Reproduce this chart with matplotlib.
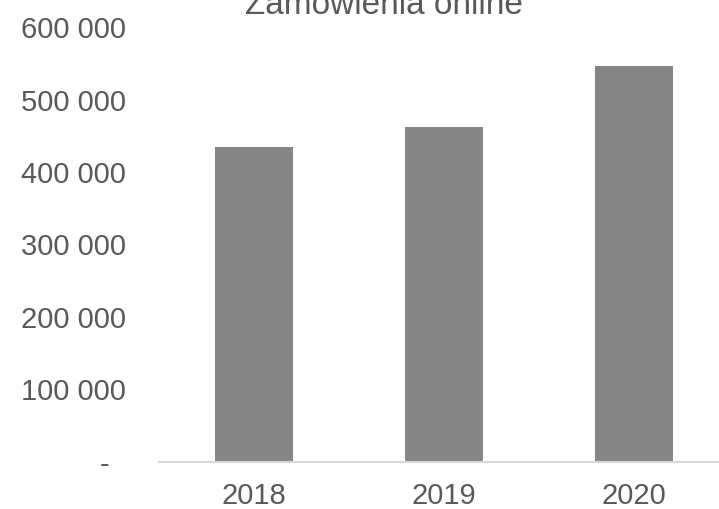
import matplotlib.pyplot as plt
import numpy as np

# data
years = ["2018", "2019", "2020"]
orders = [435000, 462000, 547000]
y_ticks = [0, 100000, 200000, 300000, 400000, 500000, 600000]
y_labels = ["-  ", "100 000", "200 000", "300 000", "400 000", "500 000", "600 000"]

plt.rcParams["font.family"] = ["Liberation Sans", "DejaVu Sans"]
text_color = "#595959"

fig = plt.figure(figsize=(7.19, 5.09), dpi=100)
ax = fig.add_axes((0.221, 0.0933, 0.793, 0.853))

x = np.arange(len(years))
ax.bar(x, orders, width=0.41, color="#868686")

ax.set_xlim(-0.5, len(years) - 0.5)
ax.set_ylim(0, 600000)
ax.set_xticks(x)
ax.set_xticklabels(years)
ax.set_yticks(y_ticks)
ax.set_yticklabels(y_labels)
ax.tick_params(axis="both", length=0, labelsize=21, colors=text_color)
ax.tick_params(axis="y", pad=24)
ax.tick_params(axis="x", pad=15)

for side in ["top", "right", "left"]:
    ax.spines[side].set_visible(False)
ax.spines["bottom"].set_color("#d9d9d9")
ax.spines["bottom"].set_linewidth(1.5)

# title sits partly above the top edge, as in the reference
fig.text(0.534, 1 - 14 / 509, "Zamówienia online", ha="center", va="baseline",
         fontsize=24, color=text_color)

fig.savefig("out.png", dpi=100)
